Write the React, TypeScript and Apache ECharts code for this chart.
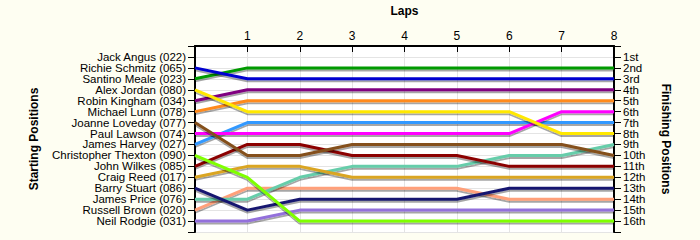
import React, { useEffect, useRef } from "react";
import * as echarts from "echarts";

const laps = [0, 1, 2, 3, 4, 5, 6, 7, 8];
const lapLabels = ["", "1", "2", "3", "4", "5", "6", "7", "8"];
const startNames = [
  "Jack Angus (022)",
  "Richie Schmitz (065)",
  "Santino Meale (023)",
  "Alex Jordan (080)",
  "Robin Kingham (034)",
  "Michael Lunn (078)",
  "Joanne Loveday (077)",
  "Paul Lawson (074)",
  "James Harvey (027)",
  "Christopher Thexton (090)",
  "John Wilkes (085)",
  "Craig Reed (017)",
  "Barry Stuart (086)",
  "James Price (076)",
  "Russell Brown (020)",
  "Neil Rodgie (031)",
];
const finishLabels = [
  "1st", "2nd", "3rd", "4th", "5th", "6th", "7th", "8th",
  "9th", "10th", "11th", "12th", "13th", "14th", "15th", "16th",
];
// positions at laps 0..8, one row per driver (starting order)
const jackAngus = [1, 1, 1, 1, 1, 1, 1, 1, 1];
const richieSchmitz = [2, 3, 3, 3, 3, 3, 3, 3, 3];
const santinoMeale = [3, 2, 2, 2, 2, 2, 2, 2, 2];
const alexJordan = [4, 6, 6, 6, 6, 6, 6, 8, 8];
const robinKingham = [5, 4, 4, 4, 4, 4, 4, 4, 4];
const michaelLunn = [6, 5, 5, 5, 5, 5, 5, 5, 5];
const joanneLoveday = [7, 10, 10, 9, 9, 9, 9, 9, 10];
const paulLawson = [8, 8, 8, 8, 8, 8, 8, 6, 6];
const jamesHarvey = [9, 7, 7, 7, 7, 7, 7, 7, 7];
const christopherThexton = [10, 12, 16, 16, 16, 16, 16, 16, 16];
const johnWilkes = [11, 9, 9, 10, 10, 10, 11, 11, 11];
const craigReed = [12, 11, 11, 12, 12, 12, 12, 12, 12];
const barryStuart = [13, 15, 14, 14, 14, 14, 13, 13, 13];
const jamesPrice = [14, 14, 12, 11, 11, 11, 10, 10, 9];
const russellBrown = [15, 13, 13, 13, 13, 13, 14, 14, 14];
const neilRodgie = [16, 16, 15, 15, 15, 15, 15, 15, 15];

const positions = [
  jackAngus, richieSchmitz, santinoMeale, alexJordan, robinKingham, michaelLunn,
  joanneLoveday, paulLawson, jamesHarvey, christopherThexton, johnWilkes,
  craigReed, barryStuart, jamesPrice, russellBrown, neilRodgie,
];
const colors = [
  "#F00000", "#0000D0", "#009A00", "#FFE800", "#800080", "#FF8A1A",
  "#84501A", "#FF00FF", "#3399FF", "#7FFF00", "#8B0000", "#DAA520",
  "#191970", "#66CDAA", "#FFA07A", "#9370DB",
];

const FONT = "Liberation Sans, Arial, sans-serif";

export default function App() {
  const ref = useRef<HTMLDivElement>(null);
  useEffect(() => {
    if (!ref.current) return;
    const chart = echarts.init(ref.current, undefined, { renderer: "svg" });
    const series = positions.map((p, i) => ({
      type: "line",
      name: startNames[i],
      data: laps.map((l, j) => [l, p[j]]),
      showSymbol: false,
      symbol: "none",
      color: colors[i],
      lineStyle: {
        width: 3,
        color: colors[i],
        shadowColor: "rgba(0,0,0,0.35)",
        shadowOffsetY: 2,
        shadowOffsetX: 0,
        shadowBlur: 1,
      },
      z: 2 + (16 - i) / 100,
    }));
    const yCommon = {
      type: "value",
      min: 0,
      max: 17,
      interval: 1,
      inverse: true,
      nameLocation: "middle",
      nameTextStyle: { fontFamily: FONT, fontWeight: "bold", fontSize: 12, color: "#000" },
      axisLine: { show: true, lineStyle: { color: "#000", width: 2 } },
      axisTick: { show: true, length: 7, lineStyle: { color: "#000", width: 1 } },
    };
    chart.setOption({
      animation: false,
      backgroundColor: "#FEFEF2",
      grid: { left: 195, right: 86, top: 43, bottom: 8, show: true, backgroundColor: "#FFFFFF", borderWidth: 0 },
      xAxis: {
        type: "value",
        position: "top",
        min: 0,
        max: 8,
        interval: 1,
        name: "Laps",
        nameLocation: "middle",
        nameGap: 29,
        nameTextStyle: { fontFamily: FONT, fontWeight: "bold", fontSize: 12, color: "#000" },
        axisLine: { show: true, lineStyle: { color: "#000", width: 2 } },
        axisTick: { show: true, inside: true, length: 6, lineStyle: { color: "#000" } },
        axisLabel: {
          fontFamily: FONT,
          fontSize: 12,
          color: "#000",
          margin: 4,
          formatter: (v: number) => lapLabels[v] ?? "",
        },
        splitLine: { show: true, lineStyle: { color: "#E4E4E4", width: 1 } },
      },
      yAxis: [
        {
          ...yCommon,
          position: "left",
          name: "Starting Positions",
          nameRotate: 90,
          nameGap: 155,
          axisLabel: {
            fontFamily: FONT,
            fontSize: 11.5,
            color: "#000",
            margin: 9,
            formatter: (v: number) => startNames[v - 1] ?? "",
          },
          splitLine: { show: true, lineStyle: { color: "#E4E4E4", width: 1 } },
        },
        {
          ...yCommon,
          position: "right",
          name: "Finishing Positions",
          nameRotate: -90,
          nameGap: 46,
          axisLabel: {
            fontFamily: FONT,
            fontSize: 11.5,
            color: "#000",
            margin: 9,
            formatter: (v: number) => finishLabels[v - 1] ?? "",
          },
          splitLine: { show: false },
        },
      ],
      series,
    });
    return () => chart.dispose();
  }, []);
  return (
    <div
      ref={ref}
      style={{ position: "fixed", left: 0, top: 0, width: 700, height: 240 }}
    />
  );
}
